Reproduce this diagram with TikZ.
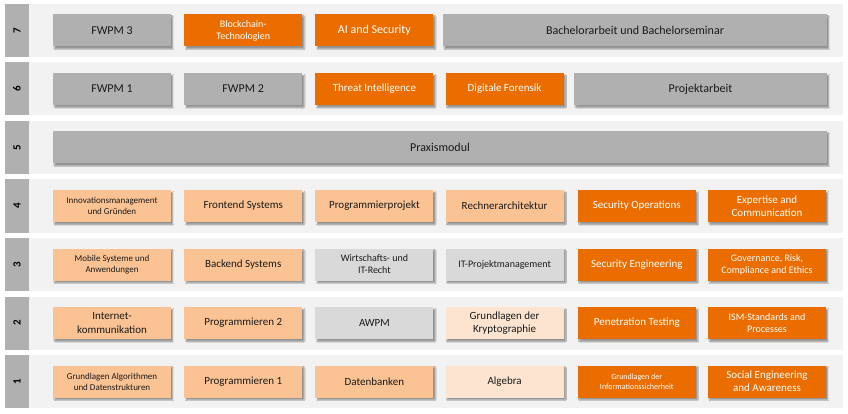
\documentclass[tikz,border=0pt]{standalone}
\usepackage{fontspec}
\setmainfont{Carlito}
\usetikzlibrary{shadows.blur}
\definecolor{cOrange}{HTML}{EB6D00}
\definecolor{cPeach}{HTML}{FBC393}
\definecolor{cPale}{HTML}{FDE4D0}
\definecolor{cGrey}{HTML}{B0B0B0}
\definecolor{cLGrey}{HTML}{D9D9D9}
\definecolor{cBand}{HTML}{F2F2F2}
\definecolor{cText}{HTML}{1A1A1A}
\tikzset{
  mod/.style={rectangle, minimum height=32pt, minimum width=118pt, inner sep=1pt, align=center,
    blur shadow={shadow xshift=1.8pt, shadow yshift=-2.2pt, shadow blur radius=1pt, shadow blur steps=4, shadow opacity=40}},
  dark/.style={mod, fill=cOrange, text=white},
  peach/.style={mod, fill=cPeach, text=cText},
  pale/.style={mod, fill=cPale, text=cText},
  grey/.style={mod, fill=cGrey, text=cText},
  lgrey/.style={mod, fill=cLGrey, text=cText},
  fA/.style={font=\fontsize{12}{14.4}\selectfont},
  fB/.style={font=\fontsize{11}{13.2}\selectfont},
  fC/.style={font=\fontsize{10}{12}\selectfont},
  fD/.style={font=\fontsize{9}{11}\selectfont},
  fE/.style={font=\fontsize{8}{10}\selectfont},
  band/.style={fill=cBand, draw=none},
  labcol/.style={fill=cGrey, draw=none},
  semlab/.style={rotate=90, font=\bfseries\fontsize{11}{13}\selectfont, text=black, inner sep=0pt}
}
\begin{document}
\begin{tikzpicture}[x=1pt, y=-1pt]
\fill[white] (0,0) rectangle (848,414);
\useasboundingbox (0,0) rectangle (848,414);
% bands
\foreach \r in {1,...,7}{
  \pgfmathsetmacro{\t}{4+(7-\r)*58.5}
  \fill[band] (5,\t) rectangle (843,\t+53);
  \fill[labcol] (5,\t) rectangle (29,\t+53);
  \node[semlab] (sem\r) at (17,\t+26.5) {\r};
}
% row 7 (y=30.5)
\node[grey, fA] (fwpm3) at (112,30.5) {FWPM 3};
\node[dark, fC] (block) at (243.2,30.5) {Blockchain-\\Technologien};
\node[dark, fA] (ai) at (374.4,30.5) {AI and Security};
\node[grey, fA, minimum width=384pt] (ba) at (635,30.5) {Bachelorarbeit und Bachelorseminar};
% row 6 (y=89)
\node[grey, fA] (fwpm1) at (112,89) {FWPM 1};
\node[grey, fA] (fwpm2) at (243.2,89) {FWPM 2};
\node[dark, fB] (ti) at (374.4,89) {Threat Intelligence};
\node[dark, fB] (df) at (504.6,89) {Digitale Forensik};
\node[grey, fA, minimum width=253pt] (pa) at (700.5,89) {Projektarbeit};
% row 5 (y=147.5)
\node[grey, fA, minimum width=774pt] (praxis) at (440,147.5) {Praxismodul};
% row 4 (y=206)
\node[peach, fD] (inno) at (112,206) {Innovationsmanagement\\und Gründen};
\node[peach, fB] (front) at (243.2,206) {Frontend Systems};
\node[peach, fB] (pp) at (374.4,206) {Programmierprojekt};
\node[peach, fB] (ra) at (504.6,206) {Rechnerarchitektur};
\node[dark, fB] (so) at (636.8,206) {Security Operations};
\node[dark, fB] (ec) at (767,206) {Expertise and\\Communication};
% row 3 (y=264.5)
\node[peach, fD] (mob) at (112,264.5) {Mobile Systeme und\\Anwendungen};
\node[peach, fB] (back) at (243.2,264.5) {Backend Systems};
\node[lgrey, fC] (wr) at (374.4,264.5) {Wirtschafts- und\\IT-Recht};
\node[lgrey, fC] (itpm) at (504.6,264.5) {IT-Projektmanagement};
\node[dark, fB] (se) at (636.8,264.5) {Security Engineering};
\node[dark, fC] (grc) at (767,264.5) {Governance, Risk,\\Compliance and Ethics};
% row 2 (y=323)
\node[peach, fB] (ik) at (112,323) {Internet-\\kommunikation};
\node[peach, fB] (p2) at (243.2,323) {Programmieren 2};
\node[lgrey, fB] (awpm) at (374.4,323) {AWPM};
\node[pale, fB] (kry) at (504.6,323) {Grundlagen der\\Kryptographie};
\node[dark, fB] (pt) at (636.8,323) {Penetration Testing};
\node[dark, fC] (ism) at (767,323) {ISM-Standards and\\Processes};
% row 1 (y=381.5)
\node[peach, fD] (gad) at (112,381.5) {Grundlagen Algorithmen\\und Datenstrukturen};
\node[peach, fB] (p1) at (243.2,381.5) {Programmieren 1};
\node[peach, fB] (db) at (374.4,381.5) {Datenbanken};
\node[pale, fB] (alg) at (504.6,381.5) {Algebra};
\node[dark, fE] (gis) at (636.8,381.5) {Grundlagen der\\Informationssicherheit};
\node[dark, fB] (sea) at (767,381.5) {Social Engineering\\and Awareness};
\end{tikzpicture}
\end{document}
